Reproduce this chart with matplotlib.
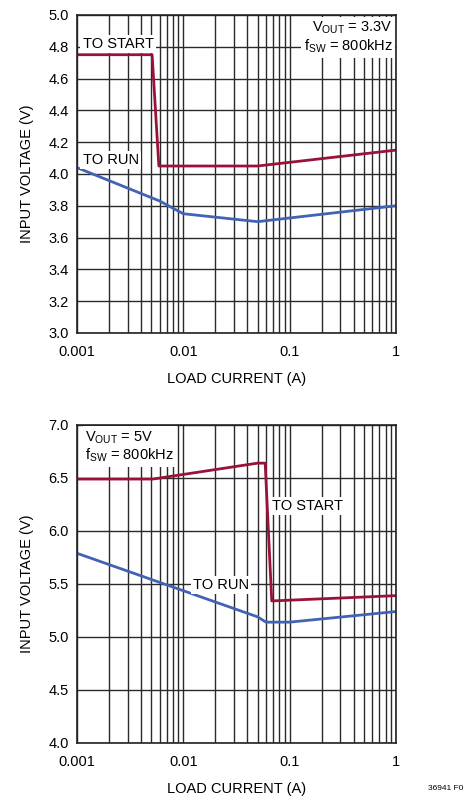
import numpy as np
import matplotlib
matplotlib.use('Agg')
import matplotlib.pyplot as plt
from matplotlib.ticker import NullFormatter, LogLocator

plt.rcParams['font.family'] = ['Liberation Sans', 'DejaVu Sans']
plt.rcParams['font.size'] = 10.5

RED = '#9b1239'
BLUE = '#4262b5'

# top chart: VOUT = 3.3V
top_start_x = [0.001, 0.0051, 0.0059, 0.05, 1.0]
top_start_y = [4.75, 4.75, 4.05, 4.05, 4.15]
top_run_x = [0.001, 0.006, 0.01, 0.05, 1.0]
top_run_y = [4.04, 3.83, 3.75, 3.70, 3.80]

# bottom chart: VOUT = 5V
bot_start_x = [0.001, 0.0052, 0.05, 0.059, 0.068, 1.0]
bot_start_y = [6.49, 6.49, 6.64, 6.64, 5.34, 5.39]
bot_run_x = [0.001, 0.05, 0.06, 0.1, 1.0]
bot_run_y = [5.79, 5.19, 5.14, 5.14, 5.24]

xticks = [0.001, 0.01, 0.1, 1]
xticklabels = ['0.001', '0.01', '0.1', '1']
top_yticks = [3.0, 3.2, 3.4, 3.6, 3.8, 4.0, 4.2, 4.4, 4.6, 4.8, 5.0]
bot_yticks = [4.0, 4.5, 5.0, 5.5, 6.0, 6.5, 7.0]

fig = plt.figure(figsize=(4.66, 7.96), dpi=100)
ax1 = fig.add_axes([0.165, 0.5817, 0.6845, 0.3995])
ax2 = fig.add_axes([0.165, 0.0666, 0.6845, 0.3995])

def style(ax, yticks):
    ax.set_xscale('log')
    ax.set_xlim(0.001, 1)
    ax.set_ylim(yticks[0], yticks[-1])
    ax.set_xticks(xticks)
    ax.set_xticklabels(xticklabels)
    ax.xaxis.set_minor_locator(LogLocator(base=10, subs=np.arange(2, 10)))
    ax.xaxis.set_minor_formatter(NullFormatter())
    ax.set_yticks(yticks)
    ax.set_yticklabels(['%.1f' % v for v in yticks])
    ax.grid(True, which='major', color='#2a2a2a', lw=1.0)
    ax.grid(True, which='minor', axis='x', color='#2a2a2a', lw=1.0)
    ax.tick_params(which='both', length=0)
    ax.tick_params(axis='y', pad=6)
    ax.tick_params(axis='x', pad=9)
    for s in ax.spines.values():
        s.set_color('#222222')
        s.set_linewidth(1.2)
    ax.set_xlabel('LOAD CURRENT (A)', labelpad=9)
    ax.set_ylabel('INPUT VOLTAGE (V)', labelpad=10)
    ax.set_axisbelow(True)

style(ax1, top_yticks)
style(ax2, bot_yticks)

ax1.plot(top_start_x, top_start_y, color=RED, lw=2.0)
ax1.plot(top_run_x, top_run_y, color=BLUE, lw=2.0)
ax2.plot(bot_start_x, bot_start_y, color=RED, lw=2.0)
ax2.plot(bot_run_x, bot_run_y, color=BLUE, lw=2.0)

box = dict(facecolor='white', edgecolor='none', pad=1.5)

ax1.text(0.00113, 4.815, 'TO START', ha='left', va='center', bbox=box)
ax1.text(0.00113, 4.085, 'TO RUN', ha='left', va='center', bbox=box)
ax1.text(0.93, 4.97, '$\\mathregular{V_{OUT}}$ = 3.3V\n$\\mathregular{f_{SW}}$ = 800kHz',
         ha='right', va='top', linespacing=1.1, bbox=dict(facecolor='white', edgecolor='none', pad=2))

ax2.text(0.0012, 6.96, '$\\mathregular{V_{OUT}}$ = 5V\n$\\mathregular{f_{SW}}$ = 800kHz',
         ha='left', va='top', linespacing=1.1, bbox=dict(facecolor='white', edgecolor='none', pad=2))
ax2.text(0.069, 6.24, 'TO START', ha='left', va='center', bbox=box)
ax2.text(0.0225, 5.49, 'TO RUN', ha='center', va='center', bbox=box)

fig.text(0.995, 0.005, '36941 F0', ha='right', va='bottom', fontsize=6)

fig.savefig('out.png', dpi=100)
